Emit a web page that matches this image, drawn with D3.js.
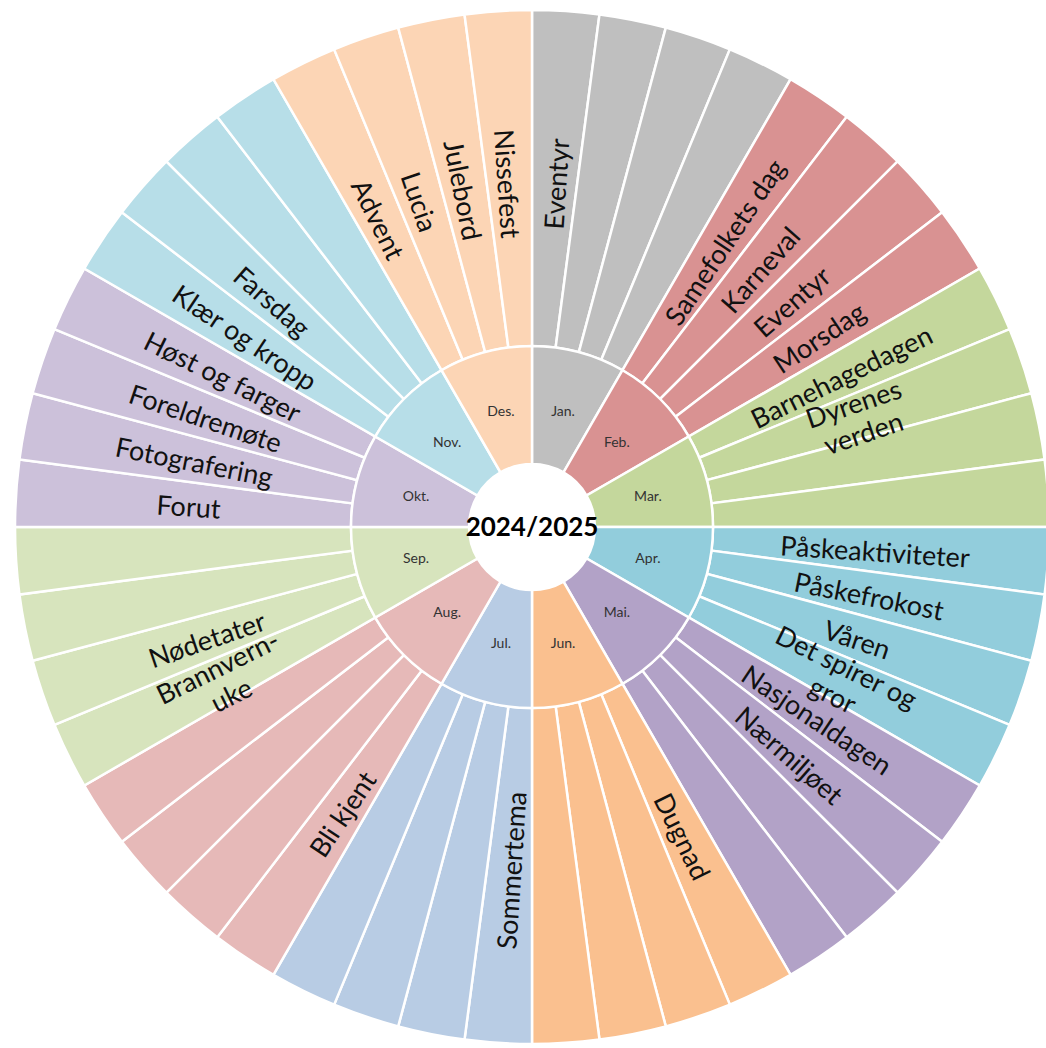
<!DOCTYPE html>
<html><head><meta charset="utf-8">
<script src="https://cdn.jsdelivr.net/npm/d3@7"></script>
<style>html,body{margin:0;padding:0;background:#fff;overflow:hidden}</style>
</head><body><svg id="chart" width="1046" height="1048"></svg>
<script>
// ---- data ----
const months = ["Jan.","Feb.","Mar.","Apr.","Mai.","Jun.","Jul.","Aug.","Sep.","Okt.","Nov.","Des."];
const weeksPerMonth = 4;
const centerTitle = "2024/2025";
const themeMonths = ["Jan.","Feb.","Feb.","Feb.","Feb.","Mar.","Mar.","Apr.","Apr.","Apr.","Apr.","Mai.","Mai.","Jun.","Jul.","Aug.","Sep.","Sep.","Okt.","Okt.","Okt.","Okt.","Nov.","Nov.","Des.","Des.","Des.","Des."];
const themeWeeks  = [1,1,2,3,4,1,2,1,2,3,4,1,2,1,1,1,1,2,1,2,3,4,1,2,1,2,3,4];
const themeTexts  = ["Eventyr","Samefolkets dag","Karneval","Eventyr","Morsdag","Barnehagedagen","Dyrenes\nverden",
  "Påskeaktiviteter","Påskefrokost","Våren","Det spirer og\ngror","Nasjonaldagen","Nærmiljøet","Dugnad","Sommertema",
  "Bli kjent","Brannvern-\nuke","Nødetater","Forut","Fotografering","Foreldremøte","Høst og farger","Klær og kropp","Farsdag",
  "Advent","Lucia","Julebord","Nissefest"];
const monthColors = ["#bfbfbf","#d99292","#c4d79c","#92cddc","#b2a2c7","#fac08f","#b8cce4","#e6b9b8","#d7e4bd","#ccc1da","#b7dee8","#fcd5b5"];

// ---- layout ----
const cx = 532, cy = 527;
const rHole = 63, rMonth = 181, rOuter = 517, rLabel = 344;
const font = "Lato, 'Open Sans', sans-serif";

const svg = d3.select("#chart");
const g = svg.append("g").attr("transform", `translate(${cx},${cy})`);
const nWeeks = months.length * weeksPerMonth;
const angle = d3.scaleLinear().domain([0, nWeeks]).range([0, 2 * Math.PI]);
const color = d3.scaleOrdinal().domain(months).range(monthColors);

const cells = [];
months.forEach((m, i) => { for (let w = 0; w < weeksPerMonth; w++) cells.push({month: m, idx: i * weeksPerMonth + w}); });

const weekArc = d3.arc().innerRadius(rMonth).outerRadius(rOuter)
  .startAngle(d => angle(d.idx)).endAngle(d => angle(d.idx + 1));
g.selectAll("path.week").data(cells).join("path").attr("class", "week")
  .attr("d", weekArc).attr("fill", d => color(d.month))
  .attr("stroke", "#fff").attr("stroke-width", 2.5);

const monthArc = d3.arc().innerRadius(rHole).outerRadius(rMonth)
  .startAngle((d, i) => angle(i * weeksPerMonth)).endAngle((d, i) => angle((i + 1) * weeksPerMonth));
g.selectAll("path.month").data(months).join("path").attr("class", "month")
  .attr("d", monthArc).attr("fill", d => color(d))
  .attr("stroke", "#fff").attr("stroke-width", 2.5);

g.append("circle").attr("r", rHole).attr("fill", "#fff");

// month labels
const rMonthLabel = 120;
g.selectAll("text.mlab").data(months).join("text").attr("class", "mlab")
  .attr("x", (d, i) => rMonthLabel * Math.sin(angle(i * weeksPerMonth + weeksPerMonth / 2)))
  .attr("y", (d, i) => -rMonthLabel * Math.cos(angle(i * weeksPerMonth + weeksPerMonth / 2)))
  .attr("dy", "0.35em").attr("text-anchor", "middle")
  .style("font-family", font).style("font-size", "14px").attr("fill", "#333")
  .text(d => d);

// center title
g.append("text").attr("text-anchor", "middle").attr("dy", "0.35em")
  .style("font-family", font).style("font-size", "26px").style("font-weight", "bold")
  .attr("fill", "#000").text(centerTitle);

// theme labels
const themes = themeTexts.map((t, i) => ({text: t, month: themeMonths[i], week: themeWeeks[i]}));
const lh = 31;
const tl = g.selectAll("text.theme").data(themes).join("text").attr("class", "theme")
  .attr("transform", d => {
    const a = angle(months.indexOf(d.month) * weeksPerMonth + d.week - 0.5);
    const deg = a * 180 / Math.PI;
    const rot = deg < 180 ? deg - 90 : deg + 90;
    return `translate(${rLabel * Math.sin(a)},${-rLabel * Math.cos(a)}) rotate(${rot})`;
  })
  .attr("text-anchor", "middle")
  .style("font-family", font).style("font-size", "27px").attr("fill", "#111");
tl.each(function(d) {
  const lines = d.text.split("\n");
  const sel = d3.select(this);
  lines.forEach((ln, k) => {
    sel.append("tspan").attr("x", 0)
      .attr("y", (k - (lines.length - 1) / 2) * lh + 12)
      .text(ln);
  });
});
</script>
</body></html>
